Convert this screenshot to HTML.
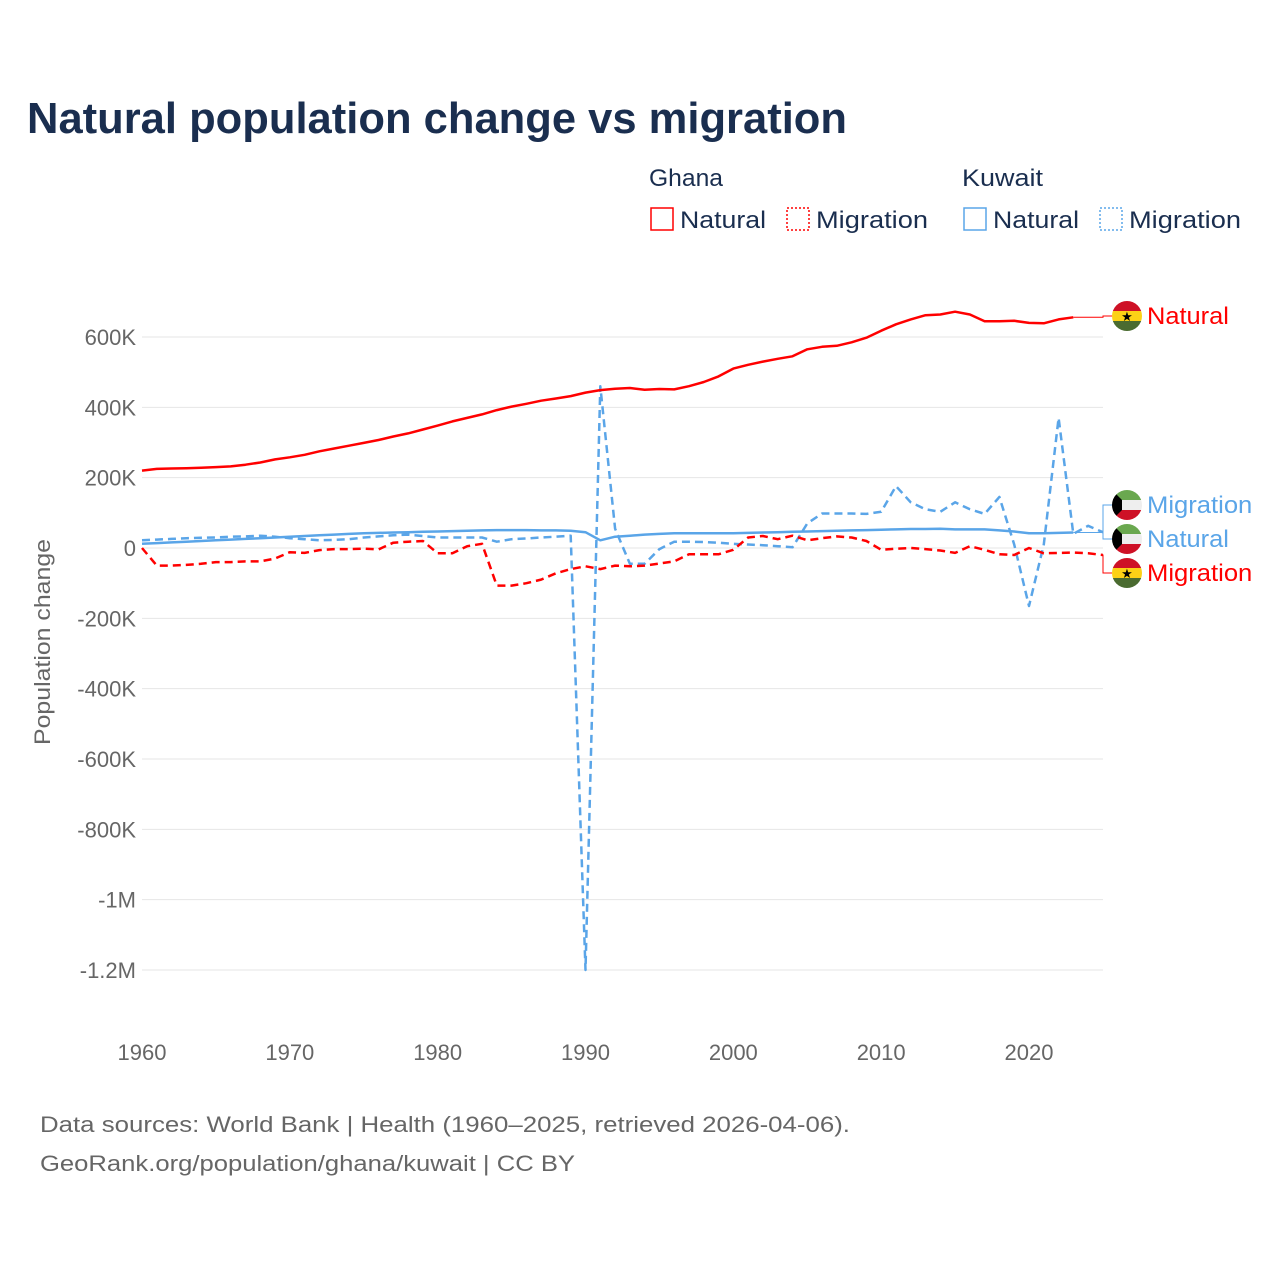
<!DOCTYPE html>
<html><head><meta charset="utf-8"><style>
body{margin:0;background:#fff;font-family:"Liberation Sans",sans-serif}
#c{position:absolute;left:0;top:0}
</style></head><body>
<svg id="c" width="1280" height="1280" xmlns="http://www.w3.org/2000/svg">
<text x="27" y="133" font-size="44" font-weight="bold" fill="#1a2e4f" textLength="820" lengthAdjust="spacingAndGlyphs">Natural population change vs migration</text>
<g font-size="24" fill="#1a2e4f">
<text x="649" y="186" textLength="74" lengthAdjust="spacingAndGlyphs">Ghana</text>
<text x="962" y="186" textLength="81" lengthAdjust="spacingAndGlyphs">Kuwait</text>
<rect x="651" y="208" width="22" height="22" fill="none" stroke="#f00" stroke-width="1.5"/>
<text x="680" y="228" textLength="86" lengthAdjust="spacingAndGlyphs">Natural</text>
<rect x="787" y="208" width="22" height="22" fill="none" stroke="#f00" stroke-width="1.5" stroke-dasharray="2,2"/>
<text x="816" y="228" textLength="112" lengthAdjust="spacingAndGlyphs">Migration</text>
<rect x="964" y="208" width="22" height="22" fill="none" stroke="#5aa5e8" stroke-width="1.5"/>
<text x="993" y="228" textLength="86" lengthAdjust="spacingAndGlyphs">Natural</text>
<rect x="1100" y="208" width="22" height="22" fill="none" stroke="#5aa5e8" stroke-width="1.5" stroke-dasharray="2,2"/>
<text x="1129" y="228" textLength="112" lengthAdjust="spacingAndGlyphs">Migration</text>
</g>
<text transform="translate(50,642) rotate(-90)" text-anchor="middle" font-size="22" fill="#666" textLength="206" lengthAdjust="spacingAndGlyphs">Population change</text>
<g id="grid"></g><g id="yt"></g><g id="xt"></g><g id="lines"></g><g id="labels"></g>
<g font-size="22" fill="#666">
<text x="40" y="1132" textLength="810" lengthAdjust="spacingAndGlyphs">Data sources: World Bank | Health (1960–2025, retrieved 2026-04-06).</text>
<text x="40" y="1171" textLength="535" lengthAdjust="spacingAndGlyphs">GeoRank.org/population/ghana/kuwait | CC BY</text>
</g>
</svg>
<script>
const yTicks=[600,400,200,0,-200,-400,-600,-800,-1000,-1200];
const yTickLabels=["600K","400K","200K","0","-200K","-400K","-600K","-800K","-1M","-1.2M"];
const xTicks=[1960,1970,1980,1990,2000,2010,2020];
const ghanaNatural=[220,225,226,227,228,230,232,237,243,252,258,265,275,283,291,299,307,317,326,337,348,360,370,380,392,402,410,419,425,432,442,449,453,455,450,452,451,460,472,488,510,521,530,538,545,565,572,575,585,598,618,636,650,662,664,672,664,645,645,646,640,639,650,656];
const ghanaMigration=[0,-50,-50,-48,-45,-40,-40,-38,-38,-30,-12,-14,-6,-3,-3,-2,-4,15,18,20,-15,-15,5,12,-107,-107,-100,-90,-72,-60,-52,-60,-50,-52,-50,-44,-38,-18,-18,-18,-5,30,34,25,35,22,28,33,30,20,-5,-2,0,-3,-7,-14,5,-5,-18,-20,0,-15,-14,-13,-15,-20];
const kuwaitNatural=[12,14,16,18,20,22,24,26,28,30,32,34,36,38,40,42,43,44,45,46,47,48,49,50,51,51,51,50,50,49,45,22,32,35,38,40,42,42,42,42,42,43,44,45,46,47,48,49,50,51,52,53,54,54,55,53,53,53,50,47,42,42,43,44];
const kuwaitMigration=[22,24,26,28,29,30,32,33,35,32,28,25,22,23,25,30,33,36,38,34,30,30,30,30,18,25,27,30,32,35,-1200,460,55,-45,-45,-3,18,18,17,15,12,10,8,5,2,70,98,98,98,97,103,176,130,110,103,130,110,97,145,10,-165,10,370,40,63,45];
const X=y=>142+(y-1960)*(1029-142)/60;
const Y=v=>548-v*(548-337)/600;
const NS="http://www.w3.org/2000/svg";
function mk(t,a,p){const e=document.createElementNS(NS,t);for(const k in a)e.setAttribute(k,a[k]);p.appendChild(e);return e;}
const grid=document.getElementById('grid'),yt=document.getElementById('yt'),xt=document.getElementById('xt');
yTicks.forEach((v,i)=>{
 const l=mk('line',{x1:142,x2:1103,y1:Y(v),y2:Y(v),stroke:'#e6e6e6','stroke-width':1},grid);
 
 
 const t=mk('text',{x:136,y:Y(v)+8,'text-anchor':'end','font-size':22,fill:'#666'},yt);
 t.textContent=yTickLabels[i];
 
 
});
xTicks.forEach(y=>{
 const t=mk('text',{x:X(y),y:1060,'text-anchor':'middle','font-size':22,fill:'#666'},xt);
 t.textContent=y;
 
 
});
const lines=document.getElementById('lines');
function series(d,col,dash,name){
 const pts=d.map((v,i)=>X(1960+i).toFixed(1)+','+Y(v).toFixed(1)).join(' ');
 const p=mk('polyline',{points:pts,fill:'none',stroke:col,'stroke-width':2.5,'stroke-linejoin':'round'},lines);
 if(dash)p.setAttribute('stroke-dasharray','8,5');
 
 
}
series(kuwaitNatural,'#5aa5e8',false,'line-kuwait-natural');
series(kuwaitMigration,'#5aa5e8',true,'line-kuwait-migration');
series(ghanaMigration,'#f00',true,'line-ghana-migration');
series(ghanaNatural,'#f00',false,'line-ghana-natural');
const lab=document.getElementById('labels');
function endLabel(d,col,ly,txt,flag,name){
 const lx=X(1960+d.length-1),vy=Y(d[d.length-1]);
 const c=mk('polyline',{points:`${lx},${vy} 1103,${vy} 1103,${ly} 1112,${ly}`,fill:'none',stroke:col,'stroke-width':1},lab);
 
 
 const g=mk('g',{},lab);
 
 
 const cx=1127,r=15;
 const id='cp'+Math.round(ly);
 const cp=mk('clipPath',{id:id},g);mk('circle',{cx:cx,cy:ly,r:r},cp);
 const gg=mk('g',{'clip-path':`url(#${id})`},g);
 if(flag==='gh'){
  mk('rect',{x:cx-r,y:ly-r,width:30,height:10,fill:'#ce1126'},gg);
  mk('rect',{x:cx-r,y:ly-5,width:30,height:10,fill:'#fcd116'},gg);
  mk('rect',{x:cx-r,y:ly+5,width:30,height:10,fill:'#4a6b30'},gg);
  const s=mk('text',{x:cx,y:ly+5,'text-anchor':'middle','font-size':13,fill:'#000'},gg);s.textContent='★';
 }else{
  mk('rect',{x:cx-r,y:ly-r,width:30,height:10,fill:'#6aa84f'},gg);
  mk('rect',{x:cx-r,y:ly-5,width:30,height:10,fill:'#eee'},gg);
  mk('rect',{x:cx-r,y:ly+5,width:30,height:10,fill:'#ce1126'},gg);
  mk('polygon',{points:`${cx-r},${ly-r} ${cx-5},${ly-5} ${cx-5},${ly+5} ${cx-r},${ly+r}`,fill:'#000'},gg);
 }
 const t=mk('text',{x:1147,y:ly+8,'font-size':24,fill:col,textLength:txt.length*11.7,lengthAdjust:'spacingAndGlyphs'},lab);
 t.textContent=txt;
 
 
}
endLabel(ghanaNatural,'#f00',316,'Natural','gh','end-label-ghana-natural');
endLabel(kuwaitMigration,'#5aa5e8',505,'Migration','kw','end-label-kuwait-migration');
endLabel(kuwaitNatural,'#5aa5e8',539,'Natural','kw','end-label-kuwait-natural');
endLabel(ghanaMigration,'#f00',573,'Migration','gh','end-label-ghana-migration');
</script>
</body></html>
